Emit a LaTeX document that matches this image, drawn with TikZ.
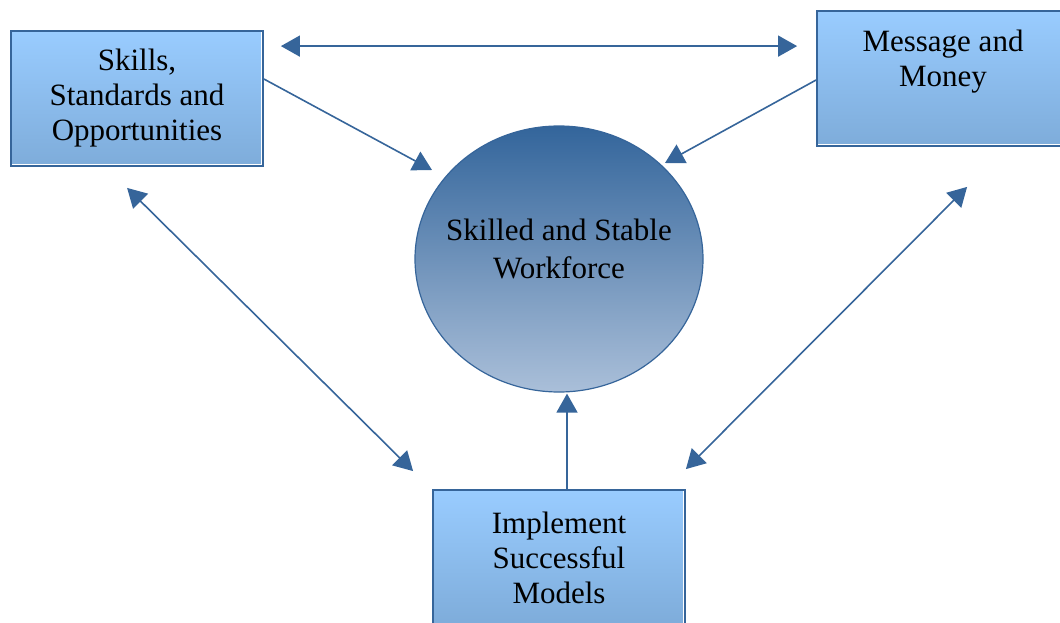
\documentclass[tikz,border=0pt]{standalone}
\usepackage{fontspec}
\setmainfont{Liberation Serif}
\usetikzlibrary{arrows.meta,shapes.geometric,calc}
\definecolor{lineblue}{HTML}{36659A}
\definecolor{boxtop}{HTML}{99CCFF}
\definecolor{boxbot}{HTML}{7EACDA}
\definecolor{elltop}{HTML}{33659B}
\definecolor{ellbot}{HTML}{AABFD9}
\tikzset{
  bluebox/.style={rectangle, draw=lineblue, line width=1.8pt, top color=boxtop, bottom color=boxbot,
    minimum width=252pt, minimum height=135pt, inner sep=0pt, align=center,
    font=\fontsize{31}{35}\selectfont},
  wfell/.style={ellipse, draw=lineblue, line width=1.2pt, top color=elltop, bottom color=ellbot,
    minimum width=288pt, minimum height=266pt, inner sep=0pt},
  wftext/.style={align=center, font=\fontsize{31}{38}\selectfont, inner sep=0pt},
  conn/.style={draw=lineblue, line width=1.6pt},
  tip/.style={-{Triangle[length=19pt,width=21pt]}},
  tips/.style={{Triangle[length=19pt,width=21pt]}-{Triangle[length=19pt,width=21pt]}},
  innerline/.style={draw=white, line width=1.2pt}
}
\begin{document}
\begin{tikzpicture}[x=1pt,y=-1pt]
\useasboundingbox (0,0) rectangle (1060,623);
\clip (0,0) rectangle (1060,623);
\node[bluebox] (sk) at (137,98.5) {Skills,\\Standards and\\Opportunities};
\node[bluebox] (mm) at (943,78.5) {Message and\\Money\\[-5pt]\strut};
\node[bluebox] (im) at (559,557.5) {Implement\\Successful\\Models};
\foreach \b in {sk,mm,im}{
  \draw[innerline] ($(\b.north east)+(-2.5,2)$) -- ($(\b.south east)+(-2.5,-2.5)$) -- ($(\b.south west)+(2,-2.5)$);
}
\node[wfell] (wf) at (559,259) {};
\node[wftext] (wft) at ($(wf.center)+(0,-10)$) {Skilled and Stable\\Workforce};
% connectors
\draw[conn,tips] ($(sk.north east)+(17,16)$) -- ($(mm.north west)+(-19,36)$);
\draw[conn,tip] ($(sk.east)+(0,-19.5)$) -- ($(wf.center)+(-127,-89)$);
\draw[conn,tip] ($(mm.west)+(0,1.5)$) -- ($(wf.center)+(106,-96)$);
\draw[conn,tips] ($(sk.south west)+(117,21)$) -- ($(im.north west)+(-19,-18)$);
\draw[conn,tips] ($(mm.south west)+(151,40)$) -- ($(im.north east)+(0,-20)$);
\draw[conn,tip] ($(im.north)+(8,0)$) -- ($(wf.south)+(8,1)$);
\end{tikzpicture}
\end{document}
